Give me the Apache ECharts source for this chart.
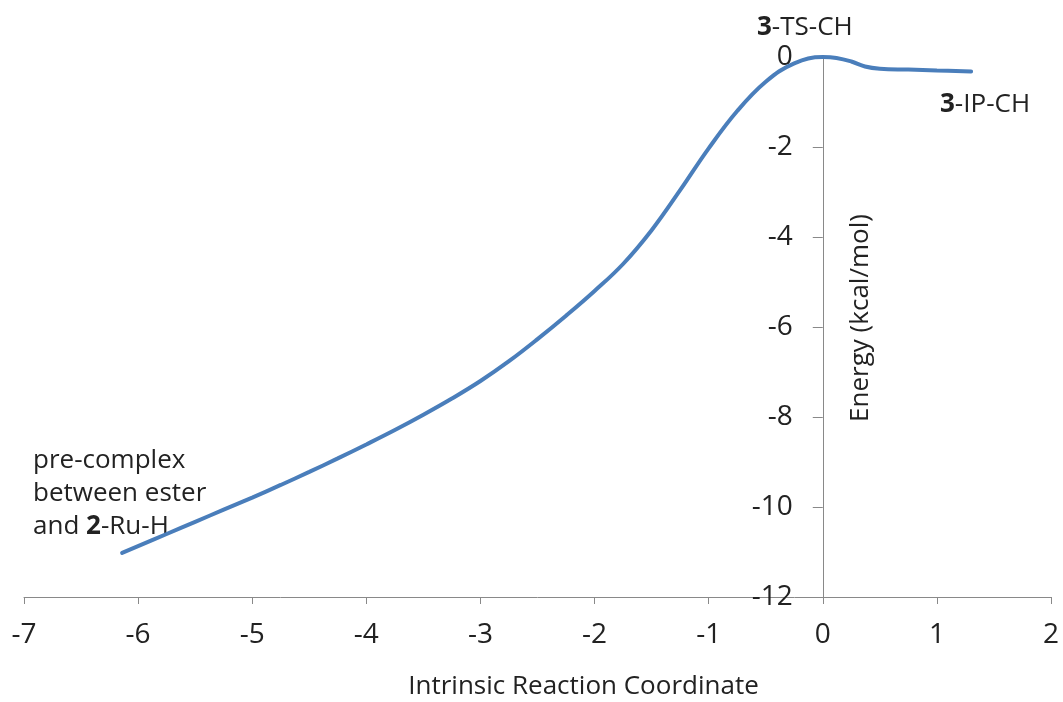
<!DOCTYPE html>
<html>
<head>
<meta charset="utf-8">
<script src="https://cdn.jsdelivr.net/npm/echarts@6/dist/echarts.min.js"></script>
<style>
  html, body { margin: 0; padding: 0; background: #fff; }
  #chart { width: 1063px; height: 702px; }
</style>
</head>
<body>
<div id="chart"></div>
<script>
const chart = echarts.init(document.getElementById("chart"));

const irc = [
  -6.14, -5.75, -5.5, -5.25, -5.0, -4.75, -4.5, -4.25, -4.0, -3.75, -3.5, -3.25,
  -3.0, -2.75, -2.5, -2.25, -2.0, -1.75, -1.5, -1.25, -1.0, -0.75, -0.5, -0.25,
  0, 0.12, 0.25, 0.37, 0.5, 0.75, 1.0, 1.3
];
const energy = [
  -11.02, -10.6, -10.33, -10.06, -9.79, -9.51, -9.22, -8.92, -8.61, -8.29, -7.95, -7.59,
  -7.2, -6.76, -6.27, -5.75, -5.2, -4.6, -3.85, -2.96, -2.03, -1.2, -0.55, -0.14,
  0, -0.02, -0.1, -0.21, -0.26, -0.28, -0.3, -0.32
];

const xTicks = { min: -7, max: 2, interval: 1 };
const yTicks = { min: -12, max: 0, interval: 2 };

const font = "'Open Sans', 'Noto Sans', sans-serif";
const axisGray = "#898989";
const textColor = "#222";
const gridLeft = 24;
const gridRight = 12;
const plotWidth = 1063 - gridLeft - gridRight;
// y axis sits at x = 0
const yAxisShift = (0 - xTicks.min) / (xTicks.max - xTicks.min) * plotWidth;

const option = {
  backgroundColor: "#fff",
  animation: false,
  grid: { left: gridLeft, right: gridRight, top: 57, bottom: 105, outerBoundsMode: "none", containLabel: false },
  xAxis: {
    type: "value",
    min: xTicks.min,
    max: xTicks.max,
    interval: xTicks.interval,
    name: "Intrinsic Reaction Coordinate",
    nameLocation: "middle",
    nameGap: 77,
    nameTextStyle: {
      fontFamily: font, fontSize: 26, color: textColor,
      padding: [0, 0, 0, 92]
    },
    axisLine: { onZero: false, lineStyle: { color: axisGray, width: 1 } },
    axisTick: { show: true, length: 7, lineStyle: { color: axisGray } },
    axisLabel: { fontFamily: font, fontSize: 28, color: textColor, margin: 24 },
    splitLine: { show: false }
  },
  yAxis: {
    type: "value",
    min: yTicks.min,
    max: yTicks.max,
    interval: yTicks.interval,
    offset: -yAxisShift,
    name: "Energy (kcal/mol)",
    nameLocation: "middle",
    nameRotate: 90,
    nameGap: -51,
    nameTextStyle: {
      fontFamily: font, fontSize: 26, color: textColor,
      padding: [0, 0, 0, 18]
    },
    axisLine: { show: true, onZero: false, lineStyle: { color: axisGray, width: 1 } },
    axisTick: { show: true, length: 10, lineStyle: { color: axisGray } },
    axisLabel: { fontFamily: font, fontSize: 28, color: textColor, margin: 30 },
    splitLine: { show: false }
  },
  series: [{
    type: "line",
    data: irc.map((x, i) => [x, energy[i]]),
    smooth: 0.4,
    symbol: "none",
    lineStyle: { color: "#4a7ebb", width: 4, cap: "round" }
  }],
  graphic: [
    {
      type: "text", left: 757, top: 15,
      style: {
        text: "{b|3}-TS-CH", font: "26px " + font, fill: textColor,
        rich: { b: { fontWeight: "bold", fontSize: 26, fontFamily: font, fill: textColor } }
      }
    },
    {
      type: "text", left: 940, top: 92,
      style: {
        text: "{b|3}-IP-CH", font: "26px " + font, fill: textColor,
        rich: { b: { fontWeight: "bold", fontSize: 26, fontFamily: font, fill: textColor } }
      }
    },
    {
      type: "text", left: 33, top: 444,
      style: {
        text: "pre-complex\nbetween ester\nand {b|2}-Ru-H", font: "26px " + font,
        fill: textColor, lineHeight: 33,
        rich: { b: { fontWeight: "bold", fontSize: 26, fontFamily: font, fill: textColor, lineHeight: 33 } }
      }
    }
  ]
};

chart.setOption(option);
</script>
</body>
</html>
